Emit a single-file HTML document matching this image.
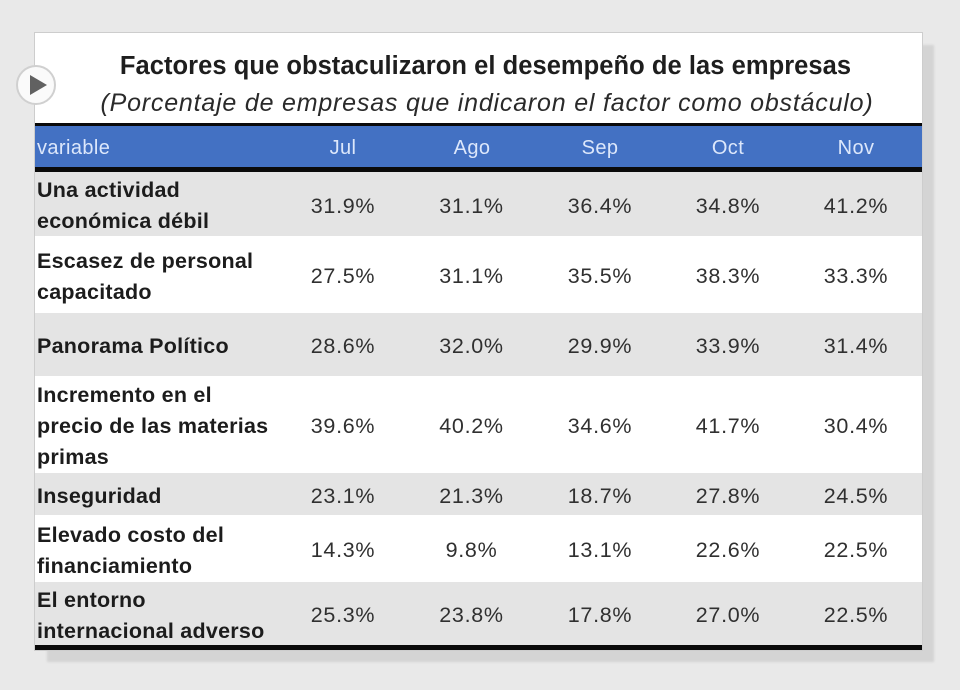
<!DOCTYPE html>
<html>
<head>
<meta charset="utf-8">
<style>
  html,body{margin:0;padding:0;}
  body{width:960px;height:690px;background:#e9e9e9;position:relative;overflow:hidden;font-family:"Liberation Sans",Arial,sans-serif;}
  .card{position:absolute;left:35px;top:33px;width:887px;height:617px;background:#fff;box-shadow:12px 12px 2px #d4d4d4;outline:1px solid #cdcdcd;}
  .title{position:absolute;left:35px;width:901px;text-align:center;top:54px;font-size:25.5px;line-height:25px;font-weight:bold;color:#1e1e1e;white-space:nowrap;letter-spacing:0.05px;}
  .sub{position:absolute;left:35px;width:904px;text-align:center;top:91px;font-size:25px;line-height:25px;font-style:italic;color:#2a2a2a;white-space:nowrap;letter-spacing:0.8px;}
  .bar{position:absolute;left:35px;width:887px;background:#0a0a0a;}
  .hdr{position:absolute;left:35px;top:126px;width:887px;height:41px;background:#4371c3;}
  .hdr div{position:absolute;top:2px;height:41px;line-height:41px;font-size:20px;color:#dce7fb;letter-spacing:0.4px;white-space:nowrap;}
  .row{position:absolute;left:35px;width:887px;}
  .g{background:#e4e4e4;}
  .w{background:#fff;}
  .lab{position:absolute;left:2px;top:0;bottom:0;display:flex;align-items:center;}
  .lab span{display:block;position:relative;top:2px;font-weight:bold;font-size:21.5px;line-height:31px;letter-spacing:0.25px;color:#1c1c1c;white-space:nowrap;}
  .num{position:absolute;top:0;bottom:0;width:128px;display:flex;align-items:center;justify-content:center;}
  .num span{position:relative;top:2px;font-size:21.5px;letter-spacing:0.7px;color:#303030;white-space:nowrap;}
  .c1{left:244px;} .c2{left:372.5px;} .c3{left:501px;} .c4{left:629px;} .c5{left:757px;}
  .play{position:absolute;left:16px;top:65px;width:36px;height:36px;border-radius:50%;background:#fafafa;border:2px solid #d0d0d0;}
  .play:after{content:"";position:absolute;left:12px;top:8px;border-left:17px solid #616161;border-top:10px solid transparent;border-bottom:10px solid transparent;}
</style>
</head>
<body>
<div class="card"></div>
<div class="title">Factores que obstaculizaron el desempeño de las empresas</div>
<div class="sub">(Porcentaje de empresas que indicaron el factor como obstáculo)</div>

<div class="bar" style="top:123px;height:3px;"></div>
<div class="hdr">
  <div style="left:2px;">variable</div>
  <div style="left:308px;width:0;"><span style="position:absolute;transform:translateX(-50%);left:0">Jul</span></div>
  <div style="left:437px;width:0;"><span style="position:absolute;transform:translateX(-50%);left:0">Ago</span></div>
  <div style="left:565px;width:0;"><span style="position:absolute;transform:translateX(-50%);left:0">Sep</span></div>
  <div style="left:693px;width:0;"><span style="position:absolute;transform:translateX(-50%);left:0">Oct</span></div>
  <div style="left:821px;width:0;"><span style="position:absolute;transform:translateX(-50%);left:0">Nov</span></div>
</div>
<div class="bar" style="top:167px;height:5px;"></div>

<div class="row g" style="top:172px;height:64px;">
  <div class="lab"><span>Una actividad<br>económica débil</span></div>
  <div class="num c1"><span>31.9%</span></div><div class="num c2"><span>31.1%</span></div><div class="num c3"><span>36.4%</span></div><div class="num c4"><span>34.8%</span></div><div class="num c5"><span>41.2%</span></div>
</div>
<div class="row w" style="top:236px;height:77px;">
  <div class="lab"><span>Escasez de personal<br>capacitado</span></div>
  <div class="num c1"><span>27.5%</span></div><div class="num c2"><span>31.1%</span></div><div class="num c3"><span>35.5%</span></div><div class="num c4"><span>38.3%</span></div><div class="num c5"><span>33.3%</span></div>
</div>
<div class="row g" style="top:313px;height:63px;">
  <div class="lab"><span>Panorama Político</span></div>
  <div class="num c1"><span>28.6%</span></div><div class="num c2"><span>32.0%</span></div><div class="num c3"><span>29.9%</span></div><div class="num c4"><span>33.9%</span></div><div class="num c5"><span>31.4%</span></div>
</div>
<div class="row w" style="top:376px;height:97px;">
  <div class="lab"><span>Incremento en el<br>precio de las materias<br>primas</span></div>
  <div class="num c1"><span>39.6%</span></div><div class="num c2"><span>40.2%</span></div><div class="num c3"><span>34.6%</span></div><div class="num c4"><span>41.7%</span></div><div class="num c5"><span>30.4%</span></div>
</div>
<div class="row g" style="top:473px;height:42px;">
  <div class="lab"><span>Inseguridad</span></div>
  <div class="num c1"><span>23.1%</span></div><div class="num c2"><span>21.3%</span></div><div class="num c3"><span>18.7%</span></div><div class="num c4"><span>27.8%</span></div><div class="num c5"><span>24.5%</span></div>
</div>
<div class="row w" style="top:515px;height:67px;">
  <div class="lab"><span>Elevado costo del<br>financiamiento</span></div>
  <div class="num c1"><span>14.3%</span></div><div class="num c2"><span>9.8%</span></div><div class="num c3"><span>13.1%</span></div><div class="num c4"><span>22.6%</span></div><div class="num c5"><span>22.5%</span></div>
</div>
<div class="row g" style="top:582px;height:63px;">
  <div class="lab"><span>El entorno<br>internacional adverso</span></div>
  <div class="num c1"><span>25.3%</span></div><div class="num c2"><span>23.8%</span></div><div class="num c3"><span>17.8%</span></div><div class="num c4"><span>27.0%</span></div><div class="num c5"><span>22.5%</span></div>
</div>
<div class="bar" style="top:645px;height:5px;"></div>

<div class="play"></div>
</body>
</html>
